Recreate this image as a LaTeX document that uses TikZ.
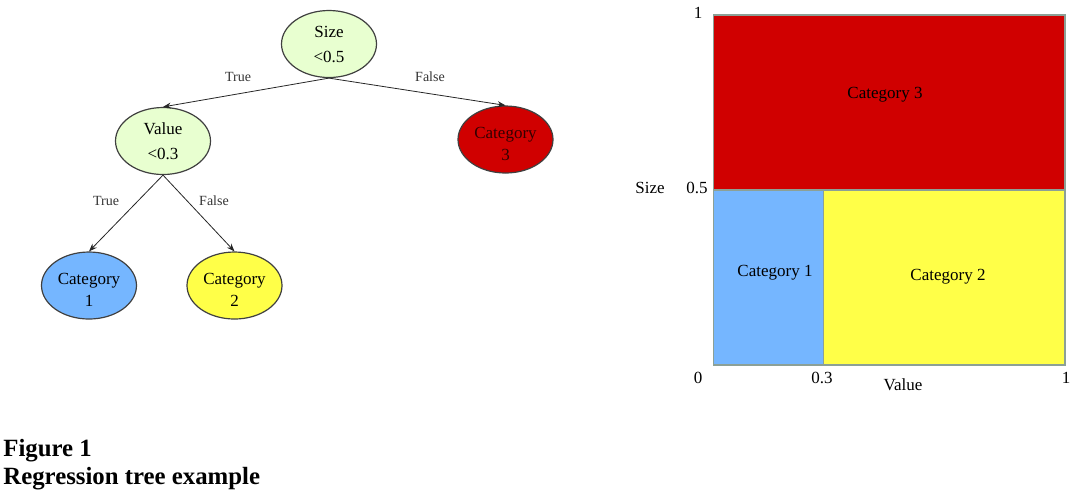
\documentclass[tikz,border=0pt]{standalone}
\usepackage{fontspec}
\setmainfont{Liberation Serif}
\usetikzlibrary{arrows.meta,shapes.geometric}
\definecolor{decfill}{RGB}{232,255,208}
\definecolor{catred}{RGB}{208,0,0}
\definecolor{catblue}{RGB}{117,182,255}
\definecolor{catyellow}{RGB}{255,255,72}
\definecolor{rectedge}{RGB}{140,160,150}
\newcommand{\lowstrut}{\rule{0pt}{10pt}}
\begin{document}
\begin{tikzpicture}[x=0.5pt,y=-0.5pt,
  tnode/.style={ellipse, draw=black!75, line width=0.6pt, minimum width=47.5pt, minimum height=33.5pt, inner sep=0pt, align=center, font=\fontsize{8.5}{11}\selectfont},
  dec/.style={tnode, fill=decfill, font=\fontsize{8.5}{12.5}\selectfont},
  edgeline/.style={draw=black!85, line width=0.4pt, -{Stealth[length=4pt,width=3pt]}},
  elab/.style={font=\fontsize{7}{8}\selectfont, text=black!80, inner sep=1pt},
  clab/.style={font=\fontsize{8.5}{10}\selectfont, inner sep=0pt},
  region/.style={draw=rectedge, line width=0.8pt},
  captext/.style={font=\fontsize{12.4}{14}\selectfont\bfseries, anchor=west, inner sep=0pt}]
\useasboundingbox (0,0) rectangle (1080,495);

% tree
\node[dec] (root) at (329,44) {Size\\<0.5};
\node[dec] (val) at (163,141) {Value\\<0.3};
\node[tnode, fill=catred, text=black!75!catred] (c3) at (505.5,139.5) {\lowstrut Category\\3};
\node[tnode, fill=catblue] (c1) at (89,285.5) {\lowstrut Category\\1};
\node[tnode, fill=catyellow] (c2) at (234.5,285.5) {\lowstrut Category\\2};

\draw[edgeline] (root.south) -- (val.north);
\draw[edgeline] (root.south) -- (c3.north);
\draw[edgeline] (val.south) -- (c1.north);
\draw[edgeline] (val.south) -- (c2.north);

\node[elab] (lt1) at (238,77) {True};
\node[elab] (lf1) at (430,77) {False};
\node[elab] (lt2) at (106,201) {True};
\node[elab] (lf2) at (214,201) {False};

% partition chart
\draw[region, fill=catred] (713.5,15) rectangle (1065,190);
\draw[region, fill=catblue] (713.5,190) rectangle (823.5,365);
\draw[region, fill=catyellow] (823.5,190) rectangle (1065,365);

\node[clab] (r3) at (885,95) {Category 3};
\node[clab] (r1) at (775,273) {Category 1};
\node[clab] (r2) at (948,277) {Category 2};

\node[clab] (y1) at (698,13) {1};
\node[clab] (ylab) at (650,188) {Size};
\node[clab] (y05) at (697,188) {0.5};
\node[clab] (x0) at (698,378) {0};
\node[clab] (x03) at (822,378) {0.3};
\node[clab] (xlab) at (903,385) {Value};
\node[clab] (x1) at (1066,378) {1};

% caption
\node[captext] (fig) at (3,451) {Figure 1};
\node[captext] (title) at (3,479) {Regression tree example};
\end{tikzpicture}
\end{document}
